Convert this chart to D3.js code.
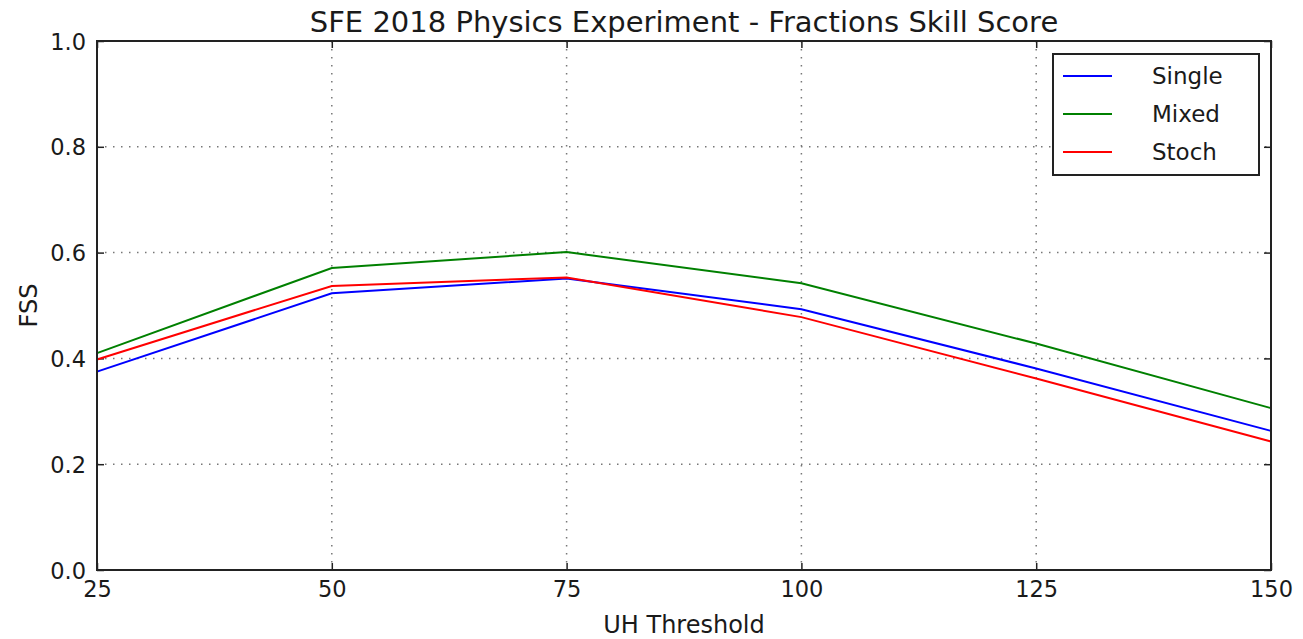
<!DOCTYPE html>
<html>
<head>
<meta charset="utf-8">
<script src="https://cdn.jsdelivr.net/npm/d3@7"></script>
<style>
  body { margin: 0; background: #fff; }
  text { font-family: "DejaVu Sans", sans-serif; fill: #1a1a1a; }
</style>
</head>
<body>
<div id="vis"></div>
<script>
const thresholds = [25, 50, 75, 100, 125, 150];
const single = [0.375, 0.523, 0.551, 0.493, 0.381, 0.263];
const mixed = [0.410, 0.571, 0.601, 0.542, 0.428, 0.306];
const stoch = [0.398, 0.537, 0.553, 0.478, 0.362, 0.243];
const seriesNames = ['Single', 'Mixed', 'Stoch'];
const yTicks = [0, 0.2, 0.4, 0.6, 0.8, 1.0];

const width = 1303;
const height = 639;
const margin = { top: 41, right: 32, bottom: 69, left: 97 };
const innerW = width - margin.left - margin.right;
const innerH = height - margin.top - margin.bottom;

const colors = d3.scaleOrdinal()
  .domain(seriesNames)
  .range(['#0000ff', '#008000', '#ff0000']);

const series = [
  { name: 'Single', values: single },
  { name: 'Mixed', values: mixed },
  { name: 'Stoch', values: stoch }
];

const svg = d3.select('#vis').append('svg')
  .attr('width', width)
  .attr('height', height);

const g = svg.append('g')
  .attr('transform', `translate(${margin.left},${margin.top})`);

const x = d3.scaleLinear().domain([25, 150]).range([0, innerW]);
const y = d3.scaleLinear().domain([0, 1]).range([innerH, 0]);

// dotted grid
g.append('g').selectAll('line')
  .data(thresholds)
  .join('line')
  .attr('x1', d => x(d)).attr('x2', d => x(d))
  .attr('y1', 0).attr('y2', innerH)
  .attr('stroke', '#777').attr('stroke-width', 1.5)
  .attr('stroke-dasharray', '1.5,6.5');

g.append('g').selectAll('line')
  .data(yTicks)
  .join('line')
  .attr('x1', 0).attr('x2', innerW)
  .attr('y1', d => y(d)).attr('y2', d => y(d))
  .attr('stroke', '#777').attr('stroke-width', 1.5)
  .attr('stroke-dasharray', '1.5,6.5');

// axes with inward ticks
const xAxis = g.append('g')
  .attr('transform', `translate(0,${innerH})`)
  .call(d3.axisBottom(x).tickValues(thresholds).tickSize(-7).tickPadding(11));
const yAxis = g.append('g')
  .call(d3.axisLeft(y).tickValues(yTicks).tickFormat(d3.format('.1f')).tickSize(-7).tickPadding(11));
g.append('g')
  .attr('transform', `translate(${innerW},0)`)
  .call(d3.axisRight(y).tickValues(yTicks).tickSize(-7).tickFormat(''));
g.append('g')
  .call(d3.axisTop(x).tickValues(thresholds).tickSize(-7).tickFormat(''));

g.selectAll('.domain').remove();
g.selectAll('.tick line').attr('stroke', '#222').attr('stroke-width', 1.5);
xAxis.selectAll('text').attr('font-size', 22.5).attr('fill', '#1a1a1a');
yAxis.selectAll('text').attr('font-size', 22.5).attr('fill', '#1a1a1a').attr('dy', '0.36em');

// lines
const line = d3.line()
  .x((d, i) => x(thresholds[i]))
  .y(d => y(d));

g.append('g').selectAll('path')
  .data(series)
  .join('path')
  .attr('fill', 'none')
  .attr('stroke', d => colors(d.name))
  .attr('stroke-width', 2)
  .attr('d', d => line(d.values));

// frame
g.append('rect')
  .attr('width', innerW).attr('height', innerH)
  .attr('fill', 'none').attr('stroke', '#222').attr('stroke-width', 2);

// title and labels
svg.append('text')
  .attr('x', margin.left + innerW / 2).attr('y', 32)
  .attr('text-anchor', 'middle').attr('font-size', 29)
  .text('SFE 2018 Physics Experiment - Fractions Skill Score');

svg.append('text')
  .attr('x', margin.left + innerW / 2).attr('y', 633)
  .attr('text-anchor', 'middle').attr('font-size', 24)
  .text('UH Threshold');

svg.append('text')
  .attr('transform', `translate(37,${margin.top + innerH / 2}) rotate(-90)`)
  .attr('text-anchor', 'middle').attr('font-size', 24)
  .text('FSS');

// legend
const legend = svg.append('g').attr('transform', 'translate(1053,54)');
legend.append('rect')
  .attr('width', 206).attr('height', 121)
  .attr('fill', '#fff').attr('stroke', '#222').attr('stroke-width', 2);

const items = legend.selectAll('g.item')
  .data(seriesNames)
  .join('g')
  .attr('class', 'item')
  .attr('transform', (d, i) => `translate(0,${22 + i * 38})`);

items.append('line')
  .attr('x1', 10).attr('x2', 59)
  .attr('stroke', d => colors(d)).attr('stroke-width', 2);

items.append('text')
  .attr('x', 99).attr('dy', '0.36em').attr('font-size', 23)
  .text(d => d);
</script>
</body>
</html>
